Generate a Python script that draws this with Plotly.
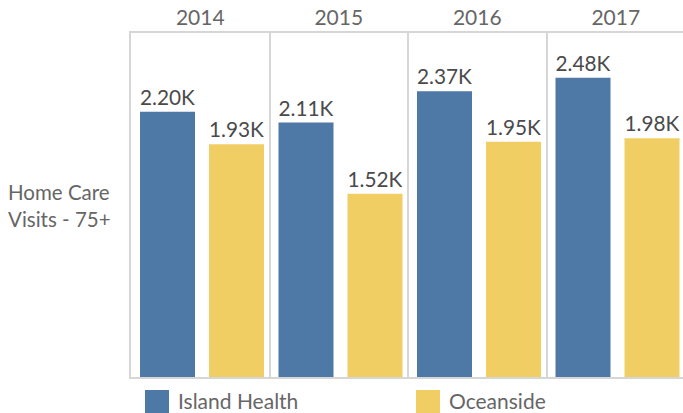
import plotly.graph_objects as go

years = ["2014", "2015", "2016", "2017"]
series_names = ["Island Health", "Oceanside"]
island_health = [2200, 2110, 2370, 2480]
oceanside = [1930, 1520, 1950, 1980]
colors = ["#4E79A7", "#F1CE63"]

FONT = "Lato"
W, H = 683, 413
L, T = 131, 33
PLOT_BOTTOM = 377
R, B = 0, H - PLOT_BOTTOM
pw, ph = W - L - R, H - T - B
PANEL = 138.5
BAR_W = 55 / PANEL
BAR_OFFSETS = [(140 - 200.25) / PANEL, (209 - 200.25) / PANEL]

def fmt(v):
    return f"{v/1000:.2f}K"

fig = go.Figure()
for name, vals, col, off in zip(series_names, [island_health, oceanside], colors, BAR_OFFSETS):
    fig.add_trace(go.Bar(
        x=years, y=vals, name=name, marker_color=col, marker_line_width=0,
        width=BAR_W, offset=off,
        text=[fmt(v) for v in vals], textposition="outside",
        textfont=dict(family=FONT, size=21, color="#4a4a4a"),
        cliponaxis=False, showlegend=False, hoverinfo="skip",
    ))

fig.update_layout(
    width=W, height=H,
    margin=dict(l=L, r=R, t=T, b=B, autoexpand=False),
    paper_bgcolor="white", plot_bgcolor="white",
    barmode="group", bargap=0.0, bargroupgap=0.2,
    font=dict(family=FONT, color="#666666"),
)
fig.update_xaxes(
    type="category", side="top", range=[-0.5, -0.5 + pw / PANEL],
    showgrid=True, tickson="boundaries", gridcolor="#d6d6d6", gridwidth=1.5,
    showline=True, mirror=True, linecolor="#d6d6d6", linewidth=1.5,
    ticks="", tickfont=dict(family=FONT, size=21, color="#666666"),
    ticklabelstandoff=-2,
    fixedrange=True, automargin=False,
)
fig.update_yaxes(
    range=[0, 2852], showgrid=False, showticklabels=False, zeroline=False,
    showline=True, linecolor="#d6d6d6", linewidth=1.5, ticks="", automargin=False,
    fixedrange=True,
)

def px_x(p):
    return (p - L) / pw

def px_y(p):
    return (PLOT_BOTTOM - p) / ph

fig.add_annotation(
    text="Home Care<br>Visits - 75+", xref="paper", yref="paper",
    x=px_x(6), y=px_y(205), xanchor="left", yanchor="middle", align="left",
    showarrow=False, font=dict(family=FONT, size=20.5, color="#666666"),
)

legend_pos = [145, 416]
for name, col, lx in zip(series_names, colors, legend_pos):
    fig.add_shape(type="rect", xref="paper", yref="paper",
                  x0=px_x(lx), x1=px_x(lx + 24), y0=px_y(390), y1=px_y(413),
                  fillcolor=col, line_width=0)
    fig.add_annotation(text=name, xref="paper", yref="paper",
                       x=px_x(lx + 32), y=px_y(400.5), xanchor="left", yanchor="middle",
                       borderpad=0,
                       showarrow=False, font=dict(family=FONT, size=21, color="#666666"))

fig.write_html("out.html", config={"displayModeBar": False},
               post_script="document.body.style.margin='0';document.body.style.overflow='hidden';")
